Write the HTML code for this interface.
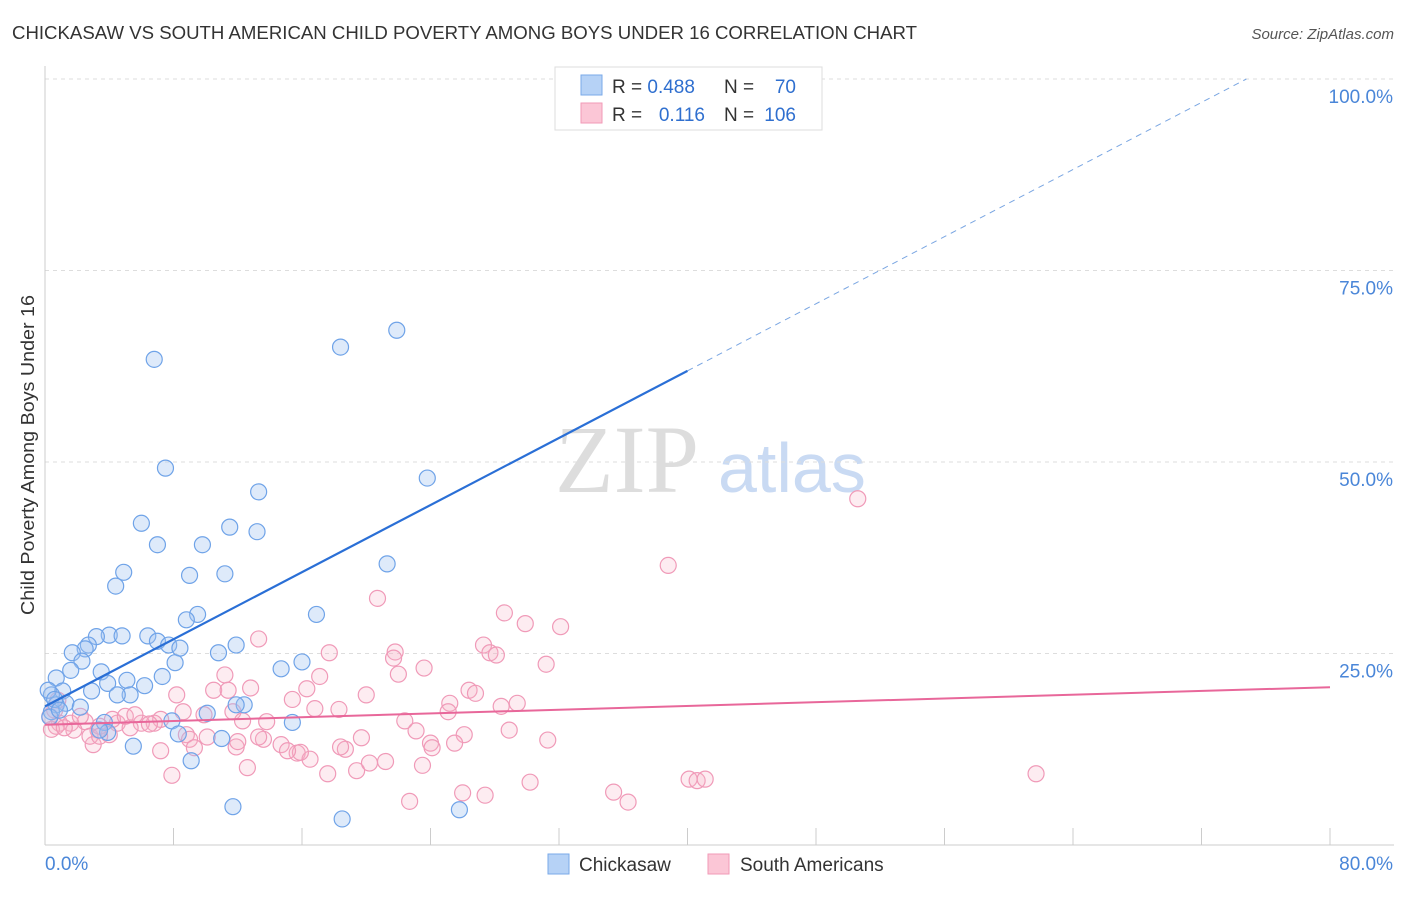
<!DOCTYPE html>
<html><head><meta charset="utf-8"><style>
body{margin:0;background:#fff;font-family:"Liberation Sans",sans-serif;}
</style></head><body>
<svg id="chart" width="1406" height="892" xmlns="http://www.w3.org/2000/svg">
<text x="12" y="39" font-size="18" fill="#333" textLength="905" lengthAdjust="spacingAndGlyphs">CHICKASAW VS SOUTH AMERICAN CHILD POVERTY AMONG BOYS UNDER 16 CORRELATION CHART</text>
<text x="1394" y="39" font-size="15" fill="#555" font-style="italic" text-anchor="end">Source: ZipAtlas.com</text>
<text x="34" y="455" font-size="18" fill="#333" text-anchor="middle" textLength="320" lengthAdjust="spacingAndGlyphs" transform="rotate(-90 34 455)">Child Poverty Among Boys Under 16</text>
<text x="555" y="492" font-size="96" fill="#ddd" font-family="Liberation Serif,serif">ZIP</text>
<text x="718" y="492" font-size="70" fill="#c9daf3">atlas</text>
<g id="grid"></g><g id="axes"></g><g id="pts"></g><g id="lines"></g>
<g>
<rect x="555" y="67" width="267" height="63" fill="#fff" stroke="#ddd"/>
<rect x="581" y="75" width="21" height="20" fill="#b6d2f6" stroke="#7aa9e8"/>
<rect x="581" y="103" width="21" height="20" fill="#fbc6d6" stroke="#f19ab7"/>
<text x="612" y="93" font-size="19" fill="#333">R = <tspan fill="#2f6fcf">0.488</tspan></text>
<text x="724" y="93" font-size="19" fill="#333">N = </text><text x="796" y="93" font-size="19" fill="#2f6fcf" text-anchor="end">70</text>
<text x="612" y="121" font-size="19" fill="#333">R = </text><text x="705" y="121" font-size="19" fill="#2f6fcf" text-anchor="end">0.116</text>
<text x="724" y="121" font-size="19" fill="#333">N = </text><text x="796" y="121" font-size="19" fill="#2f6fcf" text-anchor="end">106</text>
</g>
<g>
<rect x="548" y="854" width="21" height="20" fill="#b6d2f6" stroke="#7aa9e8"/>
<text x="579" y="871" font-size="19" fill="#333">Chickasaw</text>
<rect x="708" y="854" width="21" height="20" fill="#fbc6d6" stroke="#f19ab7"/>
<text x="740" y="871" font-size="19" fill="#333">South Americans</text>
</g>
</svg>
<script>
const xTicks=[0,80];
const yTicks=[25,50,75,100];
const blueX=[6.8,18.4,21.9,7.5,23.8,13.3,6.0,11.5,13.2,7.0,9.8,4.9,9.0,11.2,21.3,4.4,9.5,8.8,16.9,4.0,3.2,4.8,6.4,7.0,7.7,8.4,2.7,2.5,1.7,11.9,2.3,8.1,10.8,16.0,14.7,1.6,3.5,0.7,7.3,3.9,5.1,6.2,2.9,1.1,0.4,5.3,4.5,1.3,2.2,0.7,0.4,12.4,11.9,10.1,15.4,3.7,7.9,3.9,8.3,11.0,5.5,9.1,11.7,18.5,25.8,0.3,0.2,0.6,3.4,0.9];
const blueY=[63.4,65.0,67.2,49.2,47.9,46.1,42.0,41.5,40.9,39.2,39.2,35.6,35.2,35.4,36.7,33.8,30.1,29.4,30.1,27.4,27.2,27.3,27.3,26.6,26.1,25.7,26.1,25.6,25.1,26.1,24.0,23.8,25.1,23.9,23.0,22.8,22.6,21.8,22.0,21.1,21.5,20.8,20.1,20.1,19.6,19.6,19.6,18.5,18.0,18.3,17.4,18.3,18.3,17.2,16.0,16.0,16.2,14.7,14.5,13.9,12.9,11.0,5.0,3.4,4.6,16.7,20.2,19.0,15.0,17.6];
const pinkX=[50.6,38.8,20.7,28.6,32.1,29.9,27.3,13.3,17.7,21.8,27.7,28.1,31.2,21.7,23.6,22.0,11.2,17.1,16.3,12.8,10.5,11.4,8.2,15.4,20.0,25.2,26.4,26.8,28.4,29.4,16.8,25.1,11.7,9.9,8.6,7.2,12.3,13.8,22.4,6.8,6.0,4.5,4.2,5.3,6.5,2.5,1.6,0.9,0.7,0.4,1.8,1.2,3.3,13.6,14.7,11.9,23.1,28.9,26.1,8.8,10.1,15.7,16.5,15.9,18.7,18.4,19.7,15.1,13.3,7.2,3.0,4.0,31.3,24.0,24.1,25.5,9.0,9.3,12.6,17.6,19.4,20.2,21.2,23.5,7.9,30.2,40.1,40.6,41.1,61.7,26.0,27.4,35.4,36.3,22.7,0.6,0.8,0.3,2.2,2.8,3.4,5.0,5.6,3.4,12.0,18.3];
const pinkY=[45.2,36.5,32.2,30.3,28.5,28.9,26.1,26.9,25.1,25.2,25.1,24.8,23.6,24.4,23.1,22.3,22.2,22.0,20.4,20.5,20.2,20.2,19.6,19.0,19.6,18.5,20.2,19.8,18.1,18.5,17.8,17.4,17.4,17.0,17.4,16.4,16.2,16.1,16.2,15.9,15.9,15.9,16.4,15.3,15.8,16.1,15.9,15.9,15.5,15.1,15.0,15.3,15.0,13.8,13.1,12.8,14.9,15.0,14.4,14.4,14.1,12.0,11.2,12.1,12.5,12.8,14.0,12.3,14.1,12.3,13.1,14.4,13.7,13.3,12.7,13.3,13.8,12.7,10.1,9.3,9.7,10.7,10.9,10.4,9.1,8.2,8.6,8.4,8.6,9.3,6.8,6.5,6.9,5.6,5.7,17.6,18.9,16.8,16.8,14.2,15.5,16.8,17.0,14.2,13.5,17.7];
const blueFit=[18.1,61.9]; // at x=0 and x=40
const pinkFit=[15.7,20.6]; // at x=0 and x=80
const X0=45,X1=1330,Y0=845,Y100=79;
const sx=v=>X0+(X1-X0)*v/80, sy=v=>Y0-(Y0-Y100)*v/100;
const NS="http://www.w3.org/2000/svg";
function mk(g,t,a){const e=document.createElementNS(NS,t);for(const k in a)e.setAttribute(k,a[k]);document.getElementById(g).appendChild(e);return e;}
yTicks.forEach(v=>{
 const l=mk('grid','line',{x1:X0,x2:1394,y1:sy(v),y2:sy(v),stroke:'#ddd','stroke-dasharray':'4,4'});
 
 
 const t=mk('grid','text',{x:1393,y:sy(v)+24,'font-size':19,fill:'#4a86d8','text-anchor':'end'});
 t.textContent=v.toFixed(1)+'%';
 
 
});
mk('axes','line',{x1:X0,x2:X0,y1:66,y2:Y0,stroke:'#ccc'});
mk('axes','line',{x1:X0,x2:1394,y1:Y0,y2:Y0,stroke:'#ccc'});
for(let i=0;i<=10;i++){mk('axes','line',{x1:sx(i*8),x2:sx(i*8),y1:828,y2:Y0,stroke:'#ccc'});}
xTicks.forEach((v,i)=>{
 const t=mk('axes','text',{x:i?1393:45,y:870,'font-size':19,fill:'#4a86d8','text-anchor':i?'end':'start'});
 t.textContent=v.toFixed(1)+'%';
 
 
});
pinkX.forEach((v,i)=>{
 const c=mk('pts','circle',{cx:sx(v),cy:sy(pinkY[i]),r:8,fill:'rgba(246,178,200,0.25)',stroke:'#f09ab8','stroke-width':1.2});
 
 
});
blueX.forEach((v,i)=>{
 const c=mk('pts','circle',{cx:sx(v),cy:sy(blueY[i]),r:8,fill:'rgba(160,196,240,0.35)',stroke:'#6fa3e8','stroke-width':1.2});
 
 
});
const bs=(blueFit[1]-blueFit[0])/40, xe=(100-blueFit[0])/bs;
const b1=mk('lines','line',{x1:sx(0),y1:sy(blueFit[0]),x2:sx(40),y2:sy(blueFit[1]),stroke:'#2a6fd6','stroke-width':2.2});


const b2=mk('lines','line',{x1:sx(40),y1:sy(blueFit[1]),x2:sx(xe),y2:sy(100),stroke:'#7aa6e2','stroke-width':1,'stroke-dasharray':'6,5'});


const p1=mk('lines','line',{x1:sx(0),y1:sy(pinkFit[0]),x2:sx(80),y2:sy(pinkFit[1]),stroke:'#e8679a','stroke-width':2});


</script>
</body></html>
